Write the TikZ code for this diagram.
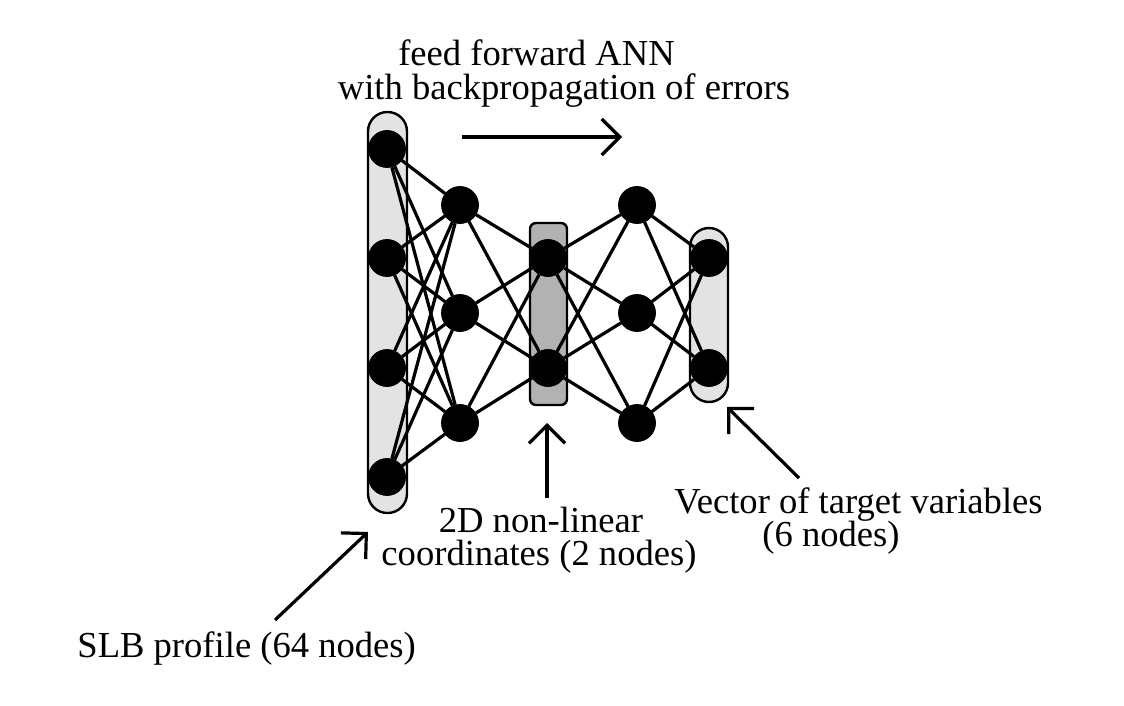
\documentclass[tikz,border=0pt]{standalone}
\usepackage{fontspec}
\setmainfont{Liberation Serif}
\usetikzlibrary{arrows.meta}
\begin{document}
\begin{tikzpicture}[x=0.5pt,y=-0.5pt,
  neuron/.style={circle,fill=black,draw=black,minimum size=18.5pt,inner sep=0pt},
  conn/.style={line width=1.6pt},
  capsule/.style={draw=black,line width=1.2pt,fill=gray!22,inner sep=0pt},
  lbl/.style={font=\fontsize{18.3}{18.3}\selectfont,inner sep=0pt},
  pointer/.style={line width=1.6pt,-{Straight Barb[length=9pt,width=18pt,line width=1.6pt]}}
]
\useasboundingbox (0,0) rectangle (1124,706);
% layer containers
\node[capsule,rounded corners=9.7pt,minimum width=19.5pt,minimum height=200.5pt] (inbox) at (387.5,312.5) {};
\node[capsule,fill=gray!60,rounded corners=3pt,minimum width=18.5pt,minimum height=91pt] (midbox) at (548.5,314) {};
\node[capsule,rounded corners=9.5pt,minimum width=19pt,minimum height=87pt] (outbox) at (709,315) {};
% neurons
\node[neuron] (i1) at (387,149) {};
\node[neuron] (i2) at (387,258) {};
\node[neuron] (i3) at (387,368) {};
\node[neuron] (i4) at (387,477) {};
\node[neuron] (h1) at (460,205) {};
\node[neuron] (h2) at (460,313) {};
\node[neuron] (h3) at (460,423) {};
\node[neuron] (b1) at (548,258) {};
\node[neuron] (b2) at (548,368) {};
\node[neuron] (g1) at (637,205) {};
\node[neuron] (g2) at (637,313) {};
\node[neuron] (g3) at (637,423) {};
\node[neuron] (o1) at (709,258) {};
\node[neuron] (o2) at (709,368) {};
% connections
\foreach \a in {1,...,4}{\foreach \b in {1,2,3}{\draw[conn] (i\a) -- (h\b);}}
\foreach \a in {1,2,3}{\foreach \b in {1,2}{\draw[conn] (h\a) -- (b\b);}}
\foreach \a in {1,2}{\foreach \b in {1,2,3}{\draw[conn] (b\a) -- (g\b);}}
\foreach \a in {1,2,3}{\foreach \b in {1,2}{\draw[conn] (g\a) -- (o\b);}}
% labels
\node[lbl,anchor=base] (t1) at (536.5,66) {feed forward ANN};
\node[lbl,anchor=base] (t2) at (564,100) {with backpropagation of errors};
\node[lbl,anchor=base west] (slb) at (77,657) {SLB profile (64 nodes)};
\node[lbl,anchor=base] (c1) at (541,532) {2D non-linear};
\node[lbl,anchor=base] (c2) at (539,565) {coordinates (2 nodes)};
\node[lbl,anchor=base east] (v1) at (1043,513) {Vector of target variables};
\node[lbl,anchor=base] (v2) at (831,546) {(6 nodes)};
% pointer arrows
\coordinate (fa) at (462,137);
\coordinate (fb) at (622,137);
\coordinate (ma) at (547,498);
\coordinate (mb) at (547,423);
\coordinate (sa) at (275,620);
\coordinate (sb) at (368,532);
\coordinate (va) at (799,478);
\coordinate (vb) at (727,407);
\draw[pointer] (fa) -- (fb);
\draw[pointer] (ma) -- (mb);
\draw[pointer] (sa) -- (sb);
\draw[pointer] (va) -- (vb);
\end{tikzpicture}
\end{document}
